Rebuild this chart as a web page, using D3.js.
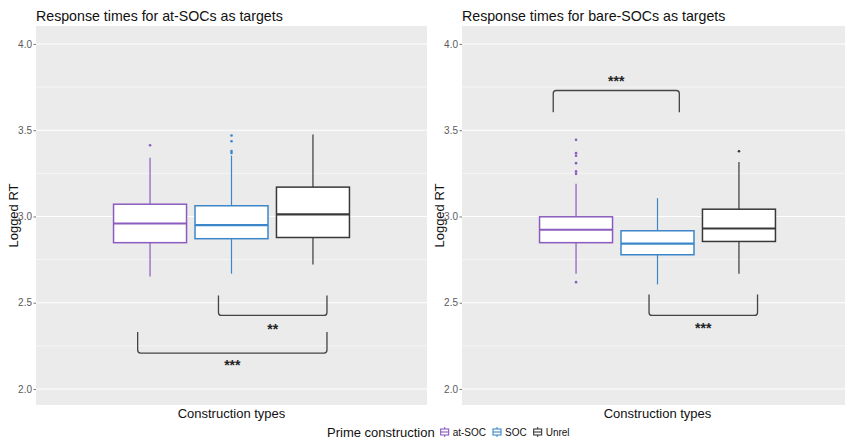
<!DOCTYPE html>
<html>
<head>
<meta charset="utf-8">
<script src="https://cdn.jsdelivr.net/npm/d3@7"></script>
<style>
  html, body { margin: 0; padding: 0; background: #fff; }
  svg { display: block; font-family: "Liberation Sans", Arial, sans-serif; }
</style>
</head>
<body>
<svg id="chart" width="845" height="439"></svg>
<script>
// Prime construction groups and their colours
const primeGroups = ["at-SOC", "SOC", "Unrel"];
const primeColors = ["#8a5cbf", "#3c87c9", "#383838"];

const panelTitles = ["Response times for at-SOCs as targets", "Response times for bare-SOCs as targets"];
const yTicks = [2.0, 2.5, 3.0, 3.5, 4.0];
const yMinorTicks = [2.25, 2.75, 3.25, 3.75];

// Box statistics per group: [lower whisker, Q1, median, Q3, upper whisker]
const atTargetBoxes = [
  [2.652, 2.848, 2.959, 3.071, 3.340],
  [2.668, 2.871, 2.950, 3.062, 3.353],
  [2.722, 2.878, 3.012, 3.170, 3.475]
];
const atTargetOutliers = [
  [3.413],
  [3.469, 3.436, 3.379, 3.368],
  []
];
const bareTargetBoxes = [
  [2.668, 2.848, 2.923, 2.998, 3.189],
  [2.606, 2.778, 2.842, 2.917, 3.106],
  [2.668, 2.855, 2.930, 3.042, 3.315]
];
const bareTargetOutliers = [
  [3.444, 3.367, 3.352, 3.309, 3.261, 3.247, 2.619],
  [],
  [3.378]
];

// Significance brackets: [x from, x to, arm end, bar level, label level], label
const atTargetBrackets = [
  [0.960, 1.293, 2.542, 2.426, 2.364],
  [0.712, 1.293, 2.330, 2.208, 2.156]
];
const atTargetBracketLabels = ["**", "***"];
const bareTargetBrackets = [
  [0.974, 1.307, 2.548, 2.426, 2.367],
  [0.680, 1.067, 3.604, 3.730, 3.800]
];
const bareTargetBracketLabels = ["***", "***"];

const panels = [
  { title: panelTitles[0], boxes: atTargetBoxes, outliers: atTargetOutliers, brackets: atTargetBrackets, labels: atTargetBracketLabels, left: 36 },
  { title: panelTitles[1], boxes: bareTargetBoxes, outliers: bareTargetOutliers, brackets: bareTargetBrackets, labels: bareTargetBracketLabels, left: 462 }
];

const svg = d3.select("#chart");
const panelW = 391, panelTop = 26, panelBottom = 405;
const dodge = 0.25, halfBox = 0.112;

const y = d3.scaleLinear().domain([1.907, 4.104]).range([panelBottom, panelTop]);

panels.forEach(p => {
  const x = d3.scaleLinear().domain([0.4, 1.6]).range([p.left, p.left + panelW]);
  const g = svg.append("g");

  // panel background and grid
  g.append("rect").attr("x", p.left).attr("y", panelTop)
    .attr("width", panelW).attr("height", panelBottom - panelTop).attr("fill", "#ebebeb");
  g.selectAll(".minor").data(yMinorTicks).join("line")
    .attr("x1", p.left).attr("x2", p.left + panelW)
    .attr("y1", d => y(d)).attr("y2", d => y(d))
    .attr("stroke", "#fff").attr("stroke-width", 0.55);
  g.selectAll(".major").data(yTicks).join("line")
    .attr("x1", p.left).attr("x2", p.left + panelW)
    .attr("y1", d => y(d)).attr("y2", d => y(d))
    .attr("stroke", "#fff").attr("stroke-width", 1.1);

  // y axis
  const ax = g.append("g").attr("transform", `translate(${p.left},0)`)
    .call(d3.axisLeft(y).tickValues(yTicks).tickFormat(d3.format(".1f")).tickSize(2.5).tickPadding(1.5));
  ax.select(".domain").remove();
  ax.selectAll(".tick line").attr("stroke", "#777");
  ax.selectAll(".tick text").attr("fill", "#5a5a5a").style("font-size", "10px").style("font-family", "Liberation Sans, Arial, sans-serif");

  // titles
  g.append("text").attr("x", p.left).attr("y", 21).attr("font-size", 14.2).attr("fill", "#111").text(p.title);
  g.append("text").attr("transform", `translate(${p.left - 18},${(panelTop + panelBottom) / 2}) rotate(-90)`)
    .attr("text-anchor", "middle").attr("font-size", 13).attr("fill", "#111").text("Logged RT");
  g.append("text").attr("x", x(1)).attr("y", 418).attr("text-anchor", "middle")
    .attr("font-size", 13).attr("fill", "#111").text("Construction types");

  // boxes
  p.boxes.forEach((b, i) => {
    const cx = 1 + (i - 1) * dodge;
    const col = primeColors[i];
    const bg = g.append("g");
    bg.append("line").attr("x1", x(cx)).attr("x2", x(cx)).attr("y1", y(b[3])).attr("y2", y(b[4]))
      .attr("stroke", col).attr("stroke-width", 1.2);
    bg.append("line").attr("x1", x(cx)).attr("x2", x(cx)).attr("y1", y(b[0])).attr("y2", y(b[1]))
      .attr("stroke", col).attr("stroke-width", 1.2);
    bg.append("rect").attr("x", x(cx - halfBox)).attr("width", x(cx + halfBox) - x(cx - halfBox))
      .attr("y", y(b[3])).attr("height", y(b[1]) - y(b[3]))
      .attr("fill", "#fff").attr("stroke", col).attr("stroke-width", 1.5);
    bg.append("line").attr("x1", x(cx - halfBox)).attr("x2", x(cx + halfBox))
      .attr("y1", y(b[2])).attr("y2", y(b[2])).attr("stroke", col).attr("stroke-width", 2.2);
    bg.selectAll("circle").data(p.outliers[i]).join("circle")
      .attr("cx", x(cx)).attr("cy", d => y(d)).attr("r", 1.3).attr("fill", col);
  });

  // significance brackets
  p.brackets.forEach((br, k) => {
    const x1 = x(br[0]), x2 = x(br[1]), ya = y(br[2]), yb = y(br[3]);
    const r = 3, s = Math.sign(yb - ya);
    const path = `M${x1},${ya} L${x1},${yb - s * r} Q${x1},${yb} ${x1 + r},${yb} L${x2 - r},${yb} Q${x2},${yb} ${x2},${yb - s * r} L${x2},${ya}`;
    g.append("path").attr("d", path).attr("fill", "none").attr("stroke", "#444").attr("stroke-width", 1.3);
    g.append("text").attr("x", (x1 + x2) / 2).attr("y", y(br[4]) + 7.5).attr("text-anchor", "middle")
      .attr("font-size", 14).attr("font-weight", "bold").attr("fill", "#222").text(p.labels[k]);
  });
});

// legend
const leg = svg.append("g");
const legTitle = leg.append("text").attr("x", 327).attr("y", 436.5).attr("font-size", 13).attr("fill", "#111")
  .text("Prime construction");
let lx = 327 + legTitle.node().getComputedTextLength() + 6;
primeGroups.forEach((name, i) => {
  const col = primeColors[i];
  const kx = lx, kcx = kx + 4, ky = 432;
  leg.append("line").attr("x1", kcx).attr("x2", kcx).attr("y1", ky - 5).attr("y2", ky + 5).attr("stroke", col).attr("stroke-width", 1);
  leg.append("rect").attr("x", kx).attr("y", ky - 3).attr("width", 8).attr("height", 6)
    .attr("fill", "#fff").attr("stroke", col).attr("stroke-width", 1.1);
  leg.append("line").attr("x1", kx).attr("x2", kx + 8).attr("y1", ky).attr("y2", ky).attr("stroke", col).attr("stroke-width", 1.1);
  const t = leg.append("text").attr("x", kx + 12).attr("y", 435.5).attr("font-size", 10).attr("fill", "#111").text(name);
  lx = kx + 12 + t.node().getComputedTextLength() + 7;
});
</script>
</body>
</html>
